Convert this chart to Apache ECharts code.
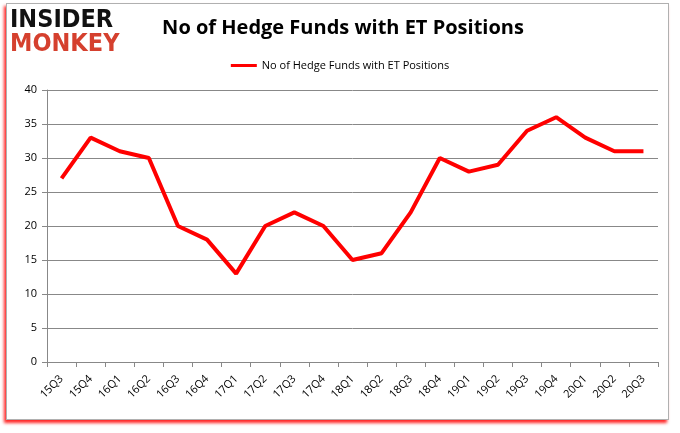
<!DOCTYPE html>
<html><head><meta charset="utf-8">
<script src="https://cdn.jsdelivr.net/npm/echarts@6/dist/echarts.min.js"></script>
<style>
html,body{margin:0;padding:0;background:#fff;}
#frame{position:absolute;left:6px;top:3px;width:661px;height:415px;border:1px solid #b0b0b0;box-shadow:-2px 3px 3px rgba(255,0,0,0.85);background:#fff;}
#chart{position:absolute;left:0;top:0;width:680px;height:433px;}
</style></head>
<body>
<div id="frame"></div>
<div id="chart"></div>
<script>
const categories = ['15Q3','15Q4','16Q1','16Q2','16Q3','16Q4','17Q1','17Q2','17Q3','17Q4','18Q1','18Q2','18Q3','18Q4','19Q1','19Q2','19Q3','19Q4','20Q1','20Q2','20Q3'];
const hedgeFunds = [27,33,31,30,20,18,13,20,22,20,15,16,22,30,28,29,34,36,33,31,31];
const seriesName = 'No of Hedge Funds with ET Positions';
const titleText = 'No of Hedge Funds with ET Positions';

const chart = echarts.init(document.getElementById('chart'));
chart.setOption({
  animation:false,
  backgroundColor:'transparent',
  title:{text:titleText,left:338,textAlign:'center',top:13,
    textStyle:{fontFamily:'Open Sans',fontWeight:'bold',fontSize:20,color:'#000'}},
  legend:{top:55,left:'center',itemWidth:26,itemHeight:3,icon:'rect',
    textStyle:{fontFamily:'Open Sans',fontSize:11,color:'#000'},
    data:[seriesName]},
  graphic:[
    {type:'text',left:10,top:8,style:{text:'INSIDER',fill:'#111',font:'900 25px "DejaVu Sans Condensed"'}},
    {type:'text',left:10,top:32,style:{text:'MONKEY',fill:'#d5402e',font:'900 25px "DejaVu Sans Condensed"'}}
  ],
  grid:{left:47,right:22,top:90,bottom:71},
  xAxis:{type:'category',data:categories,boundaryGap:true,
    axisLine:{lineStyle:{color:'#888'}},
    axisTick:{show:true,alignWithLabel:false,lineStyle:{color:'#888'},length:5},
    axisLabel:{rotate:45,fontFamily:'Open Sans',fontSize:11,color:'#000',margin:15,interval:0}},
  yAxis:{type:'value',min:0,max:40,interval:5,
    axisLine:{show:true,lineStyle:{color:'#888'}},
    axisTick:{show:true,length:5,lineStyle:{color:'#888'}},
    splitLine:{lineStyle:{color:'#888',width:1}},
    axisLabel:{fontFamily:'Open Sans',fontSize:11,color:'#000',margin:10}},
  series:[{name:seriesName,type:'line',data:hedgeFunds,symbol:'none',
    lineStyle:{color:'#ff0000',width:4},itemStyle:{color:'#ff0000'}}]
});
</script>
</body></html>
